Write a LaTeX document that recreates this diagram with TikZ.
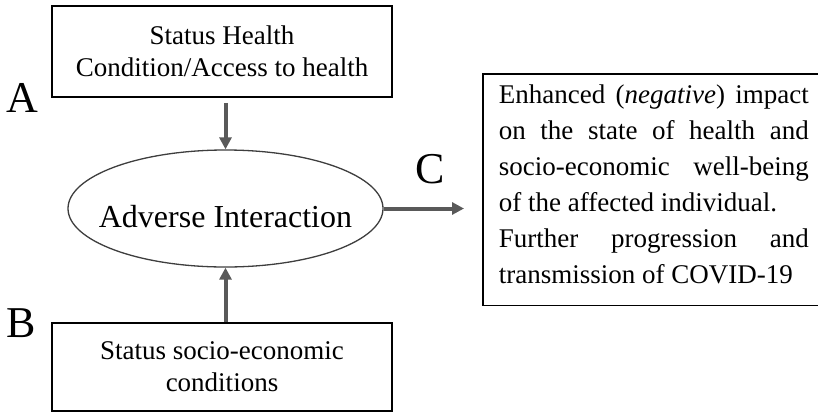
\documentclass[tikz,border=0pt]{standalone}
\usepackage{fontspec}
\setmainfont{Liberation Serif}
\usepackage{xcolor}
\usetikzlibrary{arrows.meta,shapes.geometric}
\definecolor{arrowgray}{HTML}{595959}

\begin{document}
\begin{tikzpicture}[x=1pt,y=-1pt,
  factorbox/.style={draw,line width=1.6pt,minimum width=340pt,align=center,font=\fontsize{27}{32}\selectfont},
  arr/.style={-{Triangle[length=12pt,width=12pt]},arrowgray,line width=4pt},
  letter/.style={anchor=base,font=\fontsize{44}{44}\selectfont}]
\clip (0,0) rectangle (818,413);
\node[factorbox,minimum height=91pt] (health) at (222,51.5) {Status Health\\Condition/Access to health};
\node[factorbox,minimum height=88pt] (socio) at (222,367) {Status socio-economic\\conditions};
\node[ellipse,draw,arrowgray!70!black,line width=1.3pt,minimum width=315pt,minimum height=117pt,inner sep=0pt,
  label={[black,font=\fontsize{32}{32}\selectfont,yshift=-8pt]center:Adverse Interaction}] (inter) at (225.5,208.5) {};
\node[draw,line width=1.6pt,anchor=north west,text width=310pt,inner xsep=16pt,inner ysep=11pt,align=justify,font=\fontsize{27}{36}\selectfont] (effect) at (482,73)
  {Enhanced (\textit{negative}) impact\linebreak on the state of health and\linebreak socio-economic well-being\linebreak of the affected individual.\\ Further progression and\linebreak transmission of COVID-19\strut};
\node[letter] (labA) at (22.5,112) {A};
\node[letter] (labB) at (21.5,337) {B};
\node[letter] (labC) at (430,183) {C};
\draw[arr,shorten <=5pt] (health.south -| inter.north) -- (inter.north);
\draw[arr] (socio.north -| inter.south) -- (inter.south);
\draw[arr,shorten >=18pt] (inter.east) -- (inter.east -| effect.west);
\end{tikzpicture}
\end{document}
